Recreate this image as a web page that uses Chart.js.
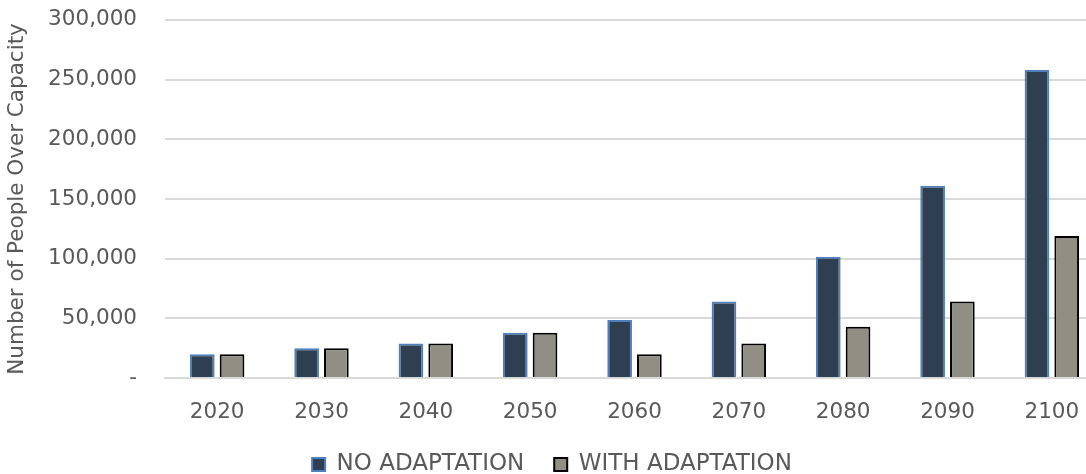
<!DOCTYPE html>
<html><head><meta charset="utf-8">
<script src="https://cdn.jsdelivr.net/npm/chart.js@4/dist/chart.umd.min.js"></script>
<style>html,body{margin:0;padding:0;overflow:hidden;background:#fff;width:1086px;height:474px;position:relative}canvas{display:block;position:absolute;left:0;top:-21px}</style>
</head><body>
<canvas id="c" width="1104" height="507"></canvas>
<script>
const categories = ["2020","2030","2040","2050","2060","2070","2080","2090","2100"];
const noAdaptation = [20000,25000,29000,38000,48500,64000,101500,161000,258000];
const withAdaptation = [20000,25000,29000,38000,20000,29000,43000,64000,119000];
const seriesNames = ["NO ADAPTATION","WITH ADAPTATION"];
const yTickValues = [0,50000,100000,150000,200000,250000,300000];
const yTitle = "Number of People Over Capacity";

const FONT = "'DejaVu Sans', sans-serif";
const TXT = "#595959";
new Chart(document.getElementById('c'), {
  type: 'bar',
  data: {
    labels: categories,
    datasets: [
      {label: seriesNames[0], data: noAdaptation, backgroundColor: '#2f3f52', borderColor: '#4f7fbd', borderWidth: 2,
       categoryPercentage: 0.57, barPercentage: 0.83},
      {label: seriesNames[1], data: withAdaptation, backgroundColor: '#918f83', borderColor: '#000000', borderWidth: 2,
       categoryPercentage: 0.57, barPercentage: 0.83}
    ]
  },
  options: {
    responsive: false,
    animation: false,
    layout: {padding: 0},
    plugins: {
      tooltip: {enabled: false},
      legend: {
        position: 'bottom',
        labels: {boxWidth: 13, boxHeight: 13, color: TXT, font: {family: FONT, size: 23}, padding: 30}
      }
    },
    scales: {
      x: {
        afterFit: s => { s.height = 45; },
        grid: {display: false, drawTicks: false},
        border: {display: true, color: '#d9d9d9', width: 2},
        ticks: {color: TXT, font: {family: FONT, size: 21.5}, padding: 22}
      },
      y: {
        min: 0, max: 300000,
        afterBuildTicks: s => { s.ticks = yTickValues.map(v => ({value: v})); },
        afterFit: s => { s.width = 165; },
        grid: {color: '#d9d9d9', lineWidth: 2, drawTicks: false},
        border: {display: false},
        ticks: {color: TXT, font: {family: FONT, size: 21.5}, padding: 28,
          callback: v => v === 0 ? '-' : v.toLocaleString('en-US')},
        title: {display: true, text: yTitle, color: TXT, font: {family: FONT, size: 21.5}, padding: {top: 5, bottom: 0}}
      }
    }
  }
});
</script>
</body></html>
